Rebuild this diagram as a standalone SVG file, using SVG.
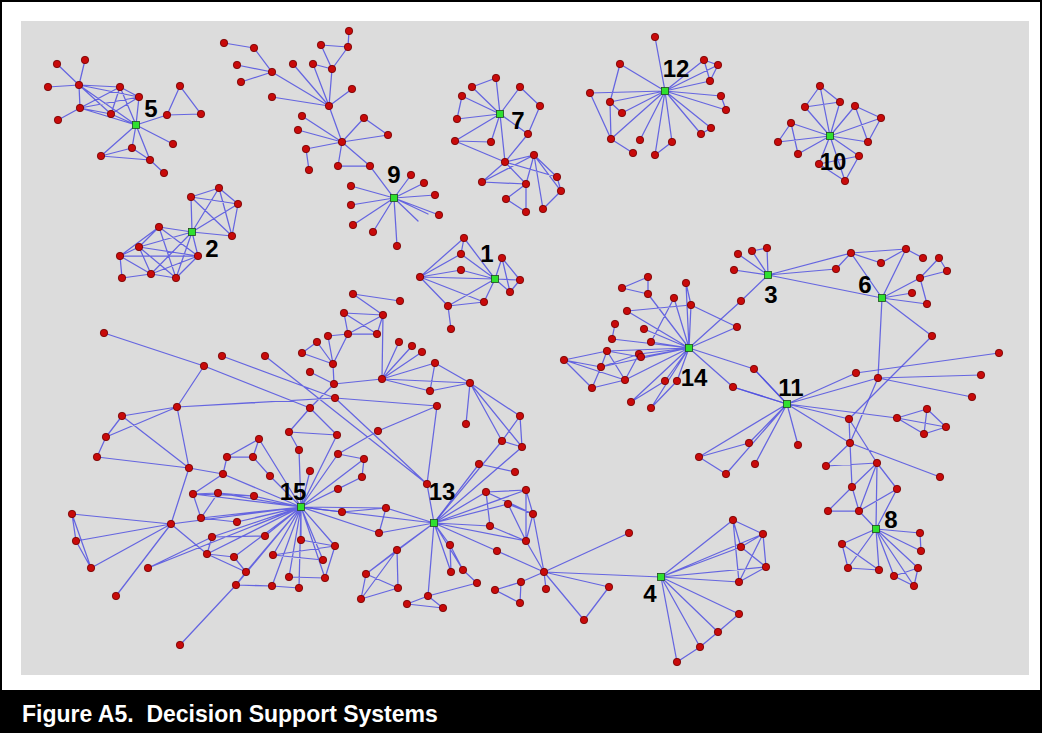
<svg xmlns="http://www.w3.org/2000/svg" width="1042" height="733" viewBox="0 0 1042 733">
<style>
  #edges path { fill: none; stroke: #5050e0; stroke-width: 1.25; stroke-opacity: 0.85; stroke-linecap: round; }
  #nodes circle { fill: #c80a0a; stroke: #6e0000; stroke-width: 0.8; r: 3.7px; }
  .hub rect { fill: #2fe02f; stroke: #1e4a1e; stroke-width: 0.8; }
  .hub text { font-family: "Liberation Sans", Arial, sans-serif; font-weight: bold; font-size: 24px; fill: #000; text-anchor: middle; }
  .caption { font-family: "Liberation Sans", Arial, sans-serif; font-weight: bold; font-size: 23px; fill: #fff; }
</style>

<!-- frame, panel and caption bar -->
<rect x="1" y="1" width="1040" height="731" fill="#fff" stroke="#000" stroke-width="2"/>
<rect x="21" y="21" width="1008" height="654" fill="#dcdcdc"/>
<rect x="0" y="690" width="1042" height="43" fill="#000"/>
<text class="caption" x="22" y="722" xml:space="preserve">Figure A5.  Decision Support Systems</text>

<g id="edges">
  <!-- cluster 5 -->
  <path d="M57,64L79,85M85,60L79,85M48,87L79,85M79,85L120,87M79,85L139,97M79,85L111,114M79,85L136,125M79,85L80,108M80,108L58,120M80,108L120,87M80,108L139,97M80,108L111,114M80,108L136,125M120,87L139,97M120,87L136,125M120,87L111,114M139,97L136,125M111,114L136,125M111,114L139,97M136,125L167,115M167,115L180,86M180,86L201,114M167,115L201,114M136,125L173,144M136,125L132,148M136,125L101,156M136,125L150,160M132,148L101,156M132,148L150,160M101,156L150,160M150,160L164,173"/>
  <!-- cluster 2 -->
  <path d="M192,232L159,227M192,232L191,197M192,232L219,188M192,232L238,204M192,232L232,236M192,232L139,247M192,232L151,274M192,232L176,278M192,232L198,256M191,197L219,188M219,188L238,204M238,204L232,236M191,197L238,204M191,197L232,236M219,188L232,236M159,227L139,247M159,227L120,256M159,227L176,278M139,247L120,256M139,247L198,256M139,247L151,274M139,247L176,278M120,256L122,278M120,256L151,274M122,278L151,274M151,274L176,278M151,274L198,256M176,278L198,256M198,256L159,227M120,256L198,256"/>
  <!-- cluster 9 -->
  <path d="M224,43L254,48M254,48L272,72M237,65L272,72M241,82L272,72M272,72L329,106M272,97L329,106M293,64L329,106M313,64L329,106M332,69L329,106M352,89L329,106M349,31L348,47M321,45L348,47M321,45L332,69M348,47L332,69M313,64L332,69M329,106L342,142M302,116L342,142M298,130L342,142M306,149L342,142M306,149L309,170M364,118L342,142M364,118L388,135M388,135L342,142M342,142L338,166M338,166L370,166M342,142L370,166M370,166L394,198M394,198L411,175M394,198L424,183M394,198L435,195M394,198L439,215M394,198L351,186M394,198L351,205M394,198L353,225M394,198L373,232M394,198L397,246M394,198L418,221M394,198L428,214"/>
  <!-- cluster 7 -->
  <path d="M500,114L496,78M500,114L472,87M500,114L520,87M500,114L462,96M500,114L457,119M500,114L455,141M500,114L491,142M500,114L505,162M500,114L528,134M472,87L496,78M462,96L457,119M455,141L491,142M455,141L505,162M520,87L540,106M505,162L534,155M505,162L482,182M505,162L526,184M505,162L557,177M482,182L526,184M482,182L534,155M534,155L526,184M534,155L557,177M534,155L561,191M534,155L543,209M526,184L506,199M526,184L526,212M506,199L526,212M557,177L561,191M561,191L543,209M528,134L505,162M528,134L540,106"/>
  <!-- cluster 12 -->
  <path d="M665,91L655,37M665,91L620,64M665,91L704,60M665,91L718,65M665,91L710,81M665,91L590,93M665,91L610,102M665,91L721,96M665,91L622,113M665,91L726,110M665,91L611,139M665,91L640,140M665,91L672,142M665,91L711,128M665,91L701,134M665,91L655,155M620,64L610,102M610,102L611,139M590,93L611,139M610,102L622,113M611,139L633,153M655,155L672,142M704,60L718,65M718,65L710,81M704,60L710,81M721,96L726,110M711,128L701,134"/>
  <!-- cluster 10 -->
  <path d="M830,136L820,86M830,136L805,107M830,136L840,102M830,136L855,106M830,136L881,118M830,136L791,123M830,136L778,142M830,136L798,154M830,136L868,142M830,136L859,156M830,136L819,164M830,136L845,181M820,86L805,107M820,86L840,102M805,107L840,102M855,106L881,118M881,118L868,142M855,106L868,142M791,123L778,142M791,123L798,154M859,156L845,181M819,164L845,181M819,164L859,156"/>
  <!-- cluster 1 -->
  <path d="M420,277L464,238M420,277L461,254M420,277L461,270M420,277L495,279M420,277L484,302M420,277L448,306M495,279L464,238M495,279L461,254M495,279L461,270M495,279L502,258M495,279L520,280M495,279L510,292M495,279L484,302M495,279L448,306M502,258L520,280M502,258L510,292M448,306L484,302M448,306L451,329M464,238L461,254M520,280L510,292"/>
  <!-- clusters 3, 6, 11, 8 -->
  <path d="M768,275L738,254M768,275L752,251M768,275L767,248M768,275L734,270M752,251L767,248M768,275L741,301M741,301L689,348M768,275L851,253M768,275L836,269M768,275L882,298M836,269L851,253M851,253L906,249M851,253L881,263M851,253L882,298M906,249L881,263M906,249L882,298M906,249L923,258M882,298L920,278M882,298L912,293M882,298L927,304M920,278L939,258M920,278L947,271M939,258L947,271M920,278L927,304M882,298L932,336M882,298L878,378M932,336L849,419"/>
  <path d="M787,404L856,373M787,404L878,378M787,404L849,419M787,404L897,418M787,404L798,445M787,404L850,443M787,404L749,443M787,404L699,457M787,404L726,474M787,404L755,464M787,404L733,387M787,404L754,369M856,373L999,353M878,378L981,375M878,378L972,397M878,378L850,443M897,418L927,409M897,418L946,427M897,418L924,434M927,409L946,427M927,409L924,434M924,434L946,427M849,419L850,443M699,457L749,443M699,457L726,474"/>
  <path d="M826,466L850,443M826,466L877,463M877,463L849,419M852,487L850,443M850,443L940,477M852,487L877,463M852,487L828,511M852,487L859,511M828,511L859,511M877,463L859,511M877,463L876,529M877,463L897,489M897,489L859,511M859,511L876,529M897,489L876,529M876,529L920,533M876,529L921,551M876,529L918,568M876,529L914,586M876,529L894,576M876,529L879,570M876,529L842,544M876,529L848,568M920,533L921,551M918,568L914,586M894,576L918,568M894,576L914,586M842,544L848,568M842,544L879,570M848,568L879,570"/>
  <!-- cluster 14 -->
  <path d="M648,277L622,288M648,277L648,294M622,288L648,294M689,348L686,283M689,348L674,298M689,348L691,305M627,311L691,305M689,348L627,311M689,348L644,329M689,348L651,342M615,324L612,339M612,339L689,348M689,348L737,327M691,305L737,327M686,283L691,305M674,298L651,342M689,348L648,294M689,348L607,351M689,348L639,354M689,348L641,357M689,348L601,367M689,348L625,380M689,348L665,381M689,348L677,381M689,348L631,402M689,348L651,408M689,348L733,387M689,348L754,369M564,360L607,351M564,360L601,367M564,360L625,380M564,360L592,388M607,351L601,367M607,351L625,380M601,367L592,388M601,367L639,354M592,388L625,380M625,380L639,354M607,351L641,357M665,381L631,402M677,381L651,408M754,369L787,404M733,387L787,404"/>
  <!-- cluster 4 -->
  <path d="M661,577L544,572M661,577L733,520M661,577L741,547M661,577L763,534M661,577L766,567M661,577L739,582M661,577L739,614M661,577L718,632M661,577L700,647M661,577L677,662M733,520L763,534M733,520L741,547M733,520L739,582M763,534L766,567M763,534L741,547M763,534L739,582M741,547L766,567M766,567L739,582M739,614L718,632M718,632L700,647M700,647L677,662M544,572L629,533M544,572L609,587M544,572L584,620M609,587L584,620M544,572L546,589M544,572L497,551M544,572L521,582M544,572L526,541M544,572L533,514"/>
  <!-- cluster 13 -->
  <path d="M434,523L427,484M434,523L479,464M434,523L486,492M434,523L508,504M434,523L526,490M434,523L490,526M434,523L526,541M434,523L450,545M434,523L397,550M434,523L497,551M434,523L451,572M434,523L463,570M434,523L428,596M434,523L366,574M434,523L301,507M434,523L386,508M434,523L379,533M479,464L515,472M486,492L526,490M486,492L533,514M508,504L533,514M490,526L526,541M526,490L533,514M533,514L526,541M526,490L526,541M486,492L490,526M508,504L526,541M397,550L366,574M397,550L398,588M397,550L361,599M366,574L398,588M361,599L398,588M366,574L361,599M428,596L407,604M428,596L443,608M407,604L443,608M428,596L477,583M450,545L463,570M450,545L451,572M463,570L477,583M521,582L495,590M521,582L520,603M495,590L520,603"/>
  <!-- upper part of the main component -->
  <path d="M353,294L400,301M353,294L383,315M344,313L383,315M344,313L348,334M344,313L377,334M383,315L348,334M383,315L377,334M348,334L377,334M383,315L382,379M328,336L348,334M328,336L333,364M348,334L333,364M317,342L333,364M302,353L317,342M302,353L333,364M310,372L334,384M333,364L334,384M334,384L382,379M382,379L399,342M382,379L412,346M382,379L422,352M382,379L435,363M382,379L430,391M382,379L470,383M435,363L430,391M435,363L470,383M430,391L470,383M470,383L466,424M470,383L520,416M470,383L502,441M470,383L522,447M520,416L502,441M502,441L522,447M520,416L522,447M502,441L434,523M522,447L434,523M334,384L310,408M335,398L437,406M177,407L335,398M335,398L427,484M437,406L427,484M378,431L437,406M378,431L338,454M310,408L289,432M289,432L337,435M289,432L299,450M310,408L337,435M265,356L427,484M222,356L335,398M104,333L204,366M204,366L310,408M177,407L204,366M177,407L122,416M177,407L106,437M177,407L189,468M122,416L106,437M106,437L97,457M122,416L189,468M97,457L189,468"/>
  <!-- cluster 15 -->
  <path d="M301,507L310,471M301,507L338,454M301,507L364,459M301,507L362,477M301,507L338,489M301,507L342,512M301,507L386,508M301,507L379,533M301,507L301,540M301,507L335,546M301,507L323,560M301,507L325,578M301,507L289,577M301,507L299,588M301,507L272,586M301,507L273,555M301,507L246,572M301,507L234,557M301,507L212,537M301,507L265,536M301,507L237,522M301,507L201,518M301,507L218,493M301,507L193,494M301,507L254,496M301,507L270,476M301,507L223,474M301,507L171,524M301,507L207,554M301,507L236,585M301,507L299,450M301,507L259,439M301,507L148,568M301,507L337,435M259,439L227,457M259,439L253,457M227,457L253,457M227,457L223,474M253,457L270,476M223,474L193,494M193,494L218,493M193,494L201,518M218,493L201,518M201,518L237,522M193,494L254,496M218,493L254,496M212,537L265,536M207,554L234,557M207,554L212,537M234,557L246,572M246,572L236,585M236,585L272,586M272,586L299,588M289,577L325,578M273,555L323,560M273,555L335,546M301,540L335,546M325,578L335,546M362,477L338,489M364,459L362,477M338,454L364,459M342,512L386,508M386,508L379,533M189,468L171,524M72,514L171,524M72,514L76,541M76,541L91,568M72,514L91,568M76,541L171,524M91,568L171,524M171,524L116,596M171,524L207,554M148,568L212,537M236,585L180,645M207,554L246,572M189,468L223,474"/>
</g>

<g id="nodes">
  <!-- hubs -->
  <g id="hub5" class="hub"><rect x="132.5" y="121.5" width="7" height="7"/><text x="151" y="117">5</text></g>
  <g id="hub2" class="hub"><rect x="188.5" y="228.5" width="7" height="7"/><text x="212" y="257">2</text></g>
  <g id="hub9" class="hub"><rect x="390.5" y="194.5" width="7" height="7"/><text x="394" y="183">9</text></g>
  <g id="hub7" class="hub"><rect x="496.5" y="110.5" width="7" height="7"/><text x="518" y="129">7</text></g>
  <g id="hub12" class="hub"><rect x="661.5" y="87.5" width="7" height="7"/><text x="676" y="77">12</text></g>
  <g id="hub10" class="hub"><rect x="826.5" y="132.5" width="7" height="7"/><text x="833" y="170">10</text></g>
  <g id="hub1" class="hub"><rect x="491.5" y="275.5" width="7" height="7"/><text x="487" y="262">1</text></g>
  <g id="hub3" class="hub"><rect x="764.5" y="271.5" width="7" height="7"/><text x="771" y="303">3</text></g>
  <g id="hub6" class="hub"><rect x="878.5" y="294.5" width="7" height="7"/><text x="865" y="293">6</text></g>
  <g id="hub14" class="hub"><rect x="685.5" y="344.5" width="7" height="7"/><text x="694" y="386">14</text></g>
  <g id="hub11" class="hub"><rect x="783.5" y="400.5" width="7" height="7"/><text x="791" y="396">11</text></g>
  <g id="hub15" class="hub"><rect x="297.5" y="503.5" width="7" height="7"/><text x="293" y="500">15</text></g>
  <g id="hub13" class="hub"><rect x="430.5" y="519.5" width="7" height="7"/><text x="442" y="500">13</text></g>
  <g id="hub4" class="hub"><rect x="657.5" y="573.5" width="7" height="7"/><text x="650" y="602">4</text></g>
  <g id="hub8" class="hub"><rect x="872.5" y="525.5" width="7" height="7"/><text x="891" y="528">8</text></g>

  <!-- members of cluster 5 -->
  <g id="a1"><circle cx="57" cy="64" r="3.7"/></g>
  <g id="a2"><circle cx="85" cy="60" r="3.7"/></g>
  <g id="a3"><circle cx="48" cy="87" r="3.7"/></g>
  <g id="a4"><circle cx="79" cy="85" r="3.7"/></g>
  <g id="a5"><circle cx="120" cy="87" r="3.7"/></g>
  <g id="a6"><circle cx="139" cy="97" r="3.7"/></g>
  <g id="a7"><circle cx="80" cy="108" r="3.7"/></g>
  <g id="a8"><circle cx="111" cy="114" r="3.7"/></g>
  <g id="a9"><circle cx="58" cy="120" r="3.7"/></g>
  <g id="a10"><circle cx="180" cy="86" r="3.7"/></g>
  <g id="a11"><circle cx="167" cy="115" r="3.7"/></g>
  <g id="a12"><circle cx="201" cy="114" r="3.7"/></g>
  <g id="a13"><circle cx="173" cy="144" r="3.7"/></g>
  <g id="a14"><circle cx="132" cy="148" r="3.7"/></g>
  <g id="a15"><circle cx="101" cy="156" r="3.7"/></g>
  <g id="a16"><circle cx="150" cy="160" r="3.7"/></g>
  <g id="a17"><circle cx="164" cy="173" r="3.7"/></g>

  <!-- members of cluster 2 -->
  <g id="b1"><circle cx="191" cy="197" r="3.7"/></g>
  <g id="b2"><circle cx="219" cy="188" r="3.7"/></g>
  <g id="b3"><circle cx="238" cy="204" r="3.7"/></g>
  <g id="b4"><circle cx="232" cy="236" r="3.7"/></g>
  <g id="b5"><circle cx="159" cy="227" r="3.7"/></g>
  <g id="b6"><circle cx="139" cy="247" r="3.7"/></g>
  <g id="b7"><circle cx="120" cy="256" r="3.7"/></g>
  <g id="b8"><circle cx="198" cy="256" r="3.7"/></g>
  <g id="b9"><circle cx="122" cy="278" r="3.7"/></g>
  <g id="b10"><circle cx="151" cy="274" r="3.7"/></g>
  <g id="b11"><circle cx="176" cy="278" r="3.7"/></g>

  <!-- members of cluster 9 -->
  <g id="c1"><circle cx="224" cy="43" r="3.7"/></g>
  <g id="c2"><circle cx="254" cy="48" r="3.7"/></g>
  <g id="c3"><circle cx="237" cy="65" r="3.7"/></g>
  <g id="c4"><circle cx="272" cy="72" r="3.7"/></g>
  <g id="c5"><circle cx="241" cy="82" r="3.7"/></g>
  <g id="c6"><circle cx="272" cy="97" r="3.7"/></g>
  <g id="c7"><circle cx="349" cy="31" r="3.7"/></g>
  <g id="c8"><circle cx="321" cy="45" r="3.7"/></g>
  <g id="c9"><circle cx="348" cy="47" r="3.7"/></g>
  <g id="c10"><circle cx="293" cy="64" r="3.7"/></g>
  <g id="c11"><circle cx="313" cy="64" r="3.7"/></g>
  <g id="c12"><circle cx="332" cy="69" r="3.7"/></g>
  <g id="c13"><circle cx="352" cy="89" r="3.7"/></g>
  <g id="c14"><circle cx="329" cy="106" r="3.7"/></g>
  <g id="c15"><circle cx="302" cy="116" r="3.7"/></g>
  <g id="c16"><circle cx="364" cy="118" r="3.7"/></g>
  <g id="c17"><circle cx="298" cy="130" r="3.7"/></g>
  <g id="c18"><circle cx="388" cy="135" r="3.7"/></g>
  <g id="c19"><circle cx="342" cy="142" r="3.7"/></g>
  <g id="c20"><circle cx="306" cy="149" r="3.7"/></g>
  <g id="c21"><circle cx="309" cy="170" r="3.7"/></g>
  <g id="c22"><circle cx="338" cy="166" r="3.7"/></g>
  <g id="c23"><circle cx="370" cy="166" r="3.7"/></g>
  <g id="c24"><circle cx="411" cy="175" r="3.7"/></g>
  <g id="c25"><circle cx="424" cy="183" r="3.7"/></g>
  <g id="c26"><circle cx="351" cy="186" r="3.7"/></g>
  <g id="c27"><circle cx="435" cy="195" r="3.7"/></g>
  <g id="c28"><circle cx="351" cy="205" r="3.7"/></g>
  <g id="c29"><circle cx="439" cy="215" r="3.7"/></g>
  <g id="c30"><circle cx="353" cy="225" r="3.7"/></g>
  <g id="c31"><circle cx="373" cy="232" r="3.7"/></g>
  <g id="c32"><circle cx="397" cy="246" r="3.7"/></g>

  <!-- members of cluster 7 -->
  <g id="d1"><circle cx="496" cy="78" r="3.7"/></g>
  <g id="d2"><circle cx="472" cy="87" r="3.7"/></g>
  <g id="d3"><circle cx="520" cy="87" r="3.7"/></g>
  <g id="d4"><circle cx="462" cy="96" r="3.7"/></g>
  <g id="d5"><circle cx="457" cy="119" r="3.7"/></g>
  <g id="d6"><circle cx="455" cy="141" r="3.7"/></g>
  <g id="d7"><circle cx="491" cy="142" r="3.7"/></g>
  <g id="d8"><circle cx="540" cy="106" r="3.7"/></g>
  <g id="d9"><circle cx="528" cy="134" r="3.7"/></g>
  <g id="d10"><circle cx="505" cy="162" r="3.7"/></g>
  <g id="d11"><circle cx="534" cy="155" r="3.7"/></g>
  <g id="d12"><circle cx="482" cy="182" r="3.7"/></g>
  <g id="d13"><circle cx="526" cy="184" r="3.7"/></g>
  <g id="d14"><circle cx="557" cy="177" r="3.7"/></g>
  <g id="d15"><circle cx="561" cy="191" r="3.7"/></g>
  <g id="d16"><circle cx="543" cy="209" r="3.7"/></g>
  <g id="d17"><circle cx="506" cy="199" r="3.7"/></g>
  <g id="d18"><circle cx="526" cy="212" r="3.7"/></g>

  <!-- members of cluster 12 -->
  <g id="e1"><circle cx="655" cy="37" r="3.7"/></g>
  <g id="e2"><circle cx="620" cy="64" r="3.7"/></g>
  <g id="e3"><circle cx="704" cy="60" r="3.7"/></g>
  <g id="e4"><circle cx="718" cy="65" r="3.7"/></g>
  <g id="e5"><circle cx="710" cy="81" r="3.7"/></g>
  <g id="e6"><circle cx="590" cy="93" r="3.7"/></g>
  <g id="e7"><circle cx="610" cy="102" r="3.7"/></g>
  <g id="e8"><circle cx="721" cy="96" r="3.7"/></g>
  <g id="e9"><circle cx="622" cy="113" r="3.7"/></g>
  <g id="e10"><circle cx="726" cy="110" r="3.7"/></g>
  <g id="e11"><circle cx="611" cy="139" r="3.7"/></g>
  <g id="e12"><circle cx="640" cy="140" r="3.7"/></g>
  <g id="e13"><circle cx="672" cy="142" r="3.7"/></g>
  <g id="e14"><circle cx="711" cy="128" r="3.7"/></g>
  <g id="e15"><circle cx="701" cy="134" r="3.7"/></g>
  <g id="e16"><circle cx="633" cy="153" r="3.7"/></g>
  <g id="e17"><circle cx="655" cy="155" r="3.7"/></g>

  <!-- members of cluster 10 -->
  <g id="f1"><circle cx="820" cy="86" r="3.7"/></g>
  <g id="f2"><circle cx="805" cy="107" r="3.7"/></g>
  <g id="f3"><circle cx="840" cy="102" r="3.7"/></g>
  <g id="f4"><circle cx="855" cy="106" r="3.7"/></g>
  <g id="f5"><circle cx="881" cy="118" r="3.7"/></g>
  <g id="f6"><circle cx="791" cy="123" r="3.7"/></g>
  <g id="f7"><circle cx="778" cy="142" r="3.7"/></g>
  <g id="f8"><circle cx="798" cy="154" r="3.7"/></g>
  <g id="f9"><circle cx="868" cy="142" r="3.7"/></g>
  <g id="f10"><circle cx="859" cy="156" r="3.7"/></g>
  <g id="f11"><circle cx="819" cy="164" r="3.7"/></g>
  <g id="f12"><circle cx="845" cy="181" r="3.7"/></g>

  <!-- members of cluster 1 -->
  <g id="g1"><circle cx="464" cy="238" r="3.7"/></g>
  <g id="g2"><circle cx="461" cy="254" r="3.7"/></g>
  <g id="g3"><circle cx="461" cy="270" r="3.7"/></g>
  <g id="g4"><circle cx="420" cy="277" r="3.7"/></g>
  <g id="g5"><circle cx="502" cy="258" r="3.7"/></g>
  <g id="g6"><circle cx="520" cy="280" r="3.7"/></g>
  <g id="g7"><circle cx="510" cy="292" r="3.7"/></g>
  <g id="g8"><circle cx="484" cy="302" r="3.7"/></g>
  <g id="g9"><circle cx="448" cy="306" r="3.7"/></g>
  <g id="g10"><circle cx="451" cy="329" r="3.7"/></g>

  <!-- members of clusters 3 and 6 -->
  <g id="h1"><circle cx="738" cy="254" r="3.7"/></g>
  <g id="h2"><circle cx="752" cy="251" r="3.7"/></g>
  <g id="h3"><circle cx="767" cy="248" r="3.7"/></g>
  <g id="h4"><circle cx="734" cy="270" r="3.7"/></g>
  <g id="h5"><circle cx="741" cy="301" r="3.7"/></g>
  <g id="h6"><circle cx="851" cy="253" r="3.7"/></g>
  <g id="h7"><circle cx="906" cy="249" r="3.7"/></g>
  <g id="h8"><circle cx="881" cy="263" r="3.7"/></g>
  <g id="h9"><circle cx="923" cy="258" r="3.7"/></g>
  <g id="h10"><circle cx="939" cy="258" r="3.7"/></g>
  <g id="h11"><circle cx="947" cy="271" r="3.7"/></g>
  <g id="h12"><circle cx="836" cy="269" r="3.7"/></g>
  <g id="h13"><circle cx="920" cy="278" r="3.7"/></g>
  <g id="h14"><circle cx="912" cy="293" r="3.7"/></g>
  <g id="h15"><circle cx="927" cy="304" r="3.7"/></g>
  <g id="h16"><circle cx="932" cy="336" r="3.7"/></g>

  <!-- members of cluster 11 -->
  <g id="i1"><circle cx="856" cy="373" r="3.7"/></g>
  <g id="i2"><circle cx="878" cy="378" r="3.7"/></g>
  <g id="i3"><circle cx="999" cy="353" r="3.7"/></g>
  <g id="i4"><circle cx="981" cy="375" r="3.7"/></g>
  <g id="i5"><circle cx="972" cy="397" r="3.7"/></g>
  <g id="i6"><circle cx="849" cy="419" r="3.7"/></g>
  <g id="i7"><circle cx="897" cy="418" r="3.7"/></g>
  <g id="i8"><circle cx="927" cy="409" r="3.7"/></g>
  <g id="i9"><circle cx="946" cy="427" r="3.7"/></g>
  <g id="i10"><circle cx="924" cy="434" r="3.7"/></g>
  <g id="i11"><circle cx="798" cy="445" r="3.7"/></g>
  <g id="i12"><circle cx="850" cy="443" r="3.7"/></g>
  <g id="i13"><circle cx="749" cy="443" r="3.7"/></g>
  <g id="i14"><circle cx="699" cy="457" r="3.7"/></g>
  <g id="i15"><circle cx="726" cy="474" r="3.7"/></g>
  <g id="i16"><circle cx="755" cy="464" r="3.7"/></g>

  <!-- members of cluster 8 -->
  <g id="j1"><circle cx="826" cy="466" r="3.7"/></g>
  <g id="j2"><circle cx="877" cy="463" r="3.7"/></g>
  <g id="j3"><circle cx="940" cy="477" r="3.7"/></g>
  <g id="j4"><circle cx="852" cy="487" r="3.7"/></g>
  <g id="j5"><circle cx="897" cy="489" r="3.7"/></g>
  <g id="j6"><circle cx="828" cy="511" r="3.7"/></g>
  <g id="j7"><circle cx="859" cy="511" r="3.7"/></g>
  <g id="j8"><circle cx="920" cy="533" r="3.7"/></g>
  <g id="j9"><circle cx="921" cy="551" r="3.7"/></g>
  <g id="j10"><circle cx="918" cy="568" r="3.7"/></g>
  <g id="j11"><circle cx="914" cy="586" r="3.7"/></g>
  <g id="j12"><circle cx="894" cy="576" r="3.7"/></g>
  <g id="j13"><circle cx="879" cy="570" r="3.7"/></g>
  <g id="j14"><circle cx="848" cy="568" r="3.7"/></g>
  <g id="j15"><circle cx="842" cy="544" r="3.7"/></g>

  <!-- members of cluster 14 -->
  <g id="k1"><circle cx="648" cy="277" r="3.7"/></g>
  <g id="k2"><circle cx="622" cy="288" r="3.7"/></g>
  <g id="k3"><circle cx="648" cy="294" r="3.7"/></g>
  <g id="k4"><circle cx="686" cy="283" r="3.7"/></g>
  <g id="k5"><circle cx="674" cy="298" r="3.7"/></g>
  <g id="k6"><circle cx="691" cy="305" r="3.7"/></g>
  <g id="k7"><circle cx="627" cy="311" r="3.7"/></g>
  <g id="k8"><circle cx="737" cy="327" r="3.7"/></g>
  <g id="k9"><circle cx="615" cy="324" r="3.7"/></g>
  <g id="k10"><circle cx="644" cy="329" r="3.7"/></g>
  <g id="k11"><circle cx="612" cy="339" r="3.7"/></g>
  <g id="k12"><circle cx="651" cy="342" r="3.7"/></g>
  <g id="k13"><circle cx="607" cy="351" r="3.7"/></g>
  <g id="k14"><circle cx="639" cy="354" r="3.7"/></g>
  <g id="k15"><circle cx="564" cy="360" r="3.7"/></g>
  <g id="k16"><circle cx="641" cy="357" r="3.7"/></g>
  <g id="k17"><circle cx="601" cy="367" r="3.7"/></g>
  <g id="k18"><circle cx="625" cy="380" r="3.7"/></g>
  <g id="k19"><circle cx="665" cy="381" r="3.7"/></g>
  <g id="k20"><circle cx="677" cy="381" r="3.7"/></g>
  <g id="k21"><circle cx="592" cy="388" r="3.7"/></g>
  <g id="k22"><circle cx="733" cy="387" r="3.7"/></g>
  <g id="k23"><circle cx="631" cy="402" r="3.7"/></g>
  <g id="k24"><circle cx="651" cy="408" r="3.7"/></g>
  <g id="k25"><circle cx="754" cy="369" r="3.7"/></g>

  <!-- members of cluster 4 -->
  <g id="m1"><circle cx="733" cy="520" r="3.7"/></g>
  <g id="m2"><circle cx="763" cy="534" r="3.7"/></g>
  <g id="m3"><circle cx="741" cy="547" r="3.7"/></g>
  <g id="m4"><circle cx="766" cy="567" r="3.7"/></g>
  <g id="m5"><circle cx="739" cy="582" r="3.7"/></g>
  <g id="m6"><circle cx="739" cy="614" r="3.7"/></g>
  <g id="m7"><circle cx="718" cy="632" r="3.7"/></g>
  <g id="m8"><circle cx="700" cy="647" r="3.7"/></g>
  <g id="m9"><circle cx="677" cy="662" r="3.7"/></g>
  <g id="m10"><circle cx="629" cy="533" r="3.7"/></g>
  <g id="m11"><circle cx="544" cy="572" r="3.7"/></g>
  <g id="m12"><circle cx="546" cy="589" r="3.7"/></g>
  <g id="m13"><circle cx="609" cy="587" r="3.7"/></g>
  <g id="m14"><circle cx="584" cy="620" r="3.7"/></g>

  <!-- members of cluster 13 -->
  <g id="p1"><circle cx="427" cy="484" r="3.7"/></g>
  <g id="p2"><circle cx="479" cy="464" r="3.7"/></g>
  <g id="p3"><circle cx="515" cy="472" r="3.7"/></g>
  <g id="p4"><circle cx="486" cy="492" r="3.7"/></g>
  <g id="p5"><circle cx="526" cy="490" r="3.7"/></g>
  <g id="p6"><circle cx="508" cy="504" r="3.7"/></g>
  <g id="p7"><circle cx="533" cy="514" r="3.7"/></g>
  <g id="p8"><circle cx="490" cy="526" r="3.7"/></g>
  <g id="p9"><circle cx="526" cy="541" r="3.7"/></g>
  <g id="p10"><circle cx="450" cy="545" r="3.7"/></g>
  <g id="p11"><circle cx="397" cy="550" r="3.7"/></g>
  <g id="p12"><circle cx="497" cy="551" r="3.7"/></g>
  <g id="p13"><circle cx="366" cy="574" r="3.7"/></g>
  <g id="p14"><circle cx="451" cy="572" r="3.7"/></g>
  <g id="p15"><circle cx="463" cy="570" r="3.7"/></g>
  <g id="p16"><circle cx="477" cy="583" r="3.7"/></g>
  <g id="p17"><circle cx="398" cy="588" r="3.7"/></g>
  <g id="p18"><circle cx="495" cy="590" r="3.7"/></g>
  <g id="p19"><circle cx="521" cy="582" r="3.7"/></g>
  <g id="p20"><circle cx="361" cy="599" r="3.7"/></g>
  <g id="p21"><circle cx="428" cy="596" r="3.7"/></g>
  <g id="p22"><circle cx="407" cy="604" r="3.7"/></g>
  <g id="p23"><circle cx="520" cy="603" r="3.7"/></g>
  <g id="p24"><circle cx="443" cy="608" r="3.7"/></g>

  <!-- upper part of the main component -->
  <g id="q1"><circle cx="353" cy="294" r="3.7"/></g>
  <g id="q2"><circle cx="400" cy="301" r="3.7"/></g>
  <g id="q3"><circle cx="344" cy="313" r="3.7"/></g>
  <g id="q4"><circle cx="383" cy="315" r="3.7"/></g>
  <g id="q5"><circle cx="328" cy="336" r="3.7"/></g>
  <g id="q6"><circle cx="348" cy="334" r="3.7"/></g>
  <g id="q7"><circle cx="377" cy="334" r="3.7"/></g>
  <g id="q8"><circle cx="317" cy="342" r="3.7"/></g>
  <g id="q9"><circle cx="302" cy="353" r="3.7"/></g>
  <g id="q10"><circle cx="333" cy="364" r="3.7"/></g>
  <g id="q11"><circle cx="399" cy="342" r="3.7"/></g>
  <g id="q12"><circle cx="412" cy="346" r="3.7"/></g>
  <g id="q13"><circle cx="422" cy="352" r="3.7"/></g>
  <g id="q14"><circle cx="435" cy="363" r="3.7"/></g>
  <g id="q15"><circle cx="310" cy="372" r="3.7"/></g>
  <g id="q16"><circle cx="382" cy="379" r="3.7"/></g>
  <g id="q17"><circle cx="334" cy="384" r="3.7"/></g>
  <g id="q18"><circle cx="430" cy="391" r="3.7"/></g>
  <g id="q19"><circle cx="470" cy="383" r="3.7"/></g>
  <g id="q20"><circle cx="335" cy="398" r="3.7"/></g>
  <g id="q21"><circle cx="310" cy="408" r="3.7"/></g>
  <g id="q22"><circle cx="437" cy="406" r="3.7"/></g>
  <g id="q23"><circle cx="466" cy="424" r="3.7"/></g>
  <g id="q24"><circle cx="520" cy="416" r="3.7"/></g>
  <g id="q25"><circle cx="289" cy="432" r="3.7"/></g>
  <g id="q26"><circle cx="337" cy="435" r="3.7"/></g>
  <g id="q27"><circle cx="378" cy="431" r="3.7"/></g>
  <g id="q28"><circle cx="502" cy="441" r="3.7"/></g>
  <g id="q29"><circle cx="522" cy="447" r="3.7"/></g>
  <g id="q30"><circle cx="299" cy="450" r="3.7"/></g>
  <g id="q31"><circle cx="338" cy="454" r="3.7"/></g>
  <g id="q32"><circle cx="364" cy="459" r="3.7"/></g>
  <g id="q33"><circle cx="104" cy="333" r="3.7"/></g>
  <g id="q34"><circle cx="204" cy="366" r="3.7"/></g>
  <g id="q35"><circle cx="222" cy="356" r="3.7"/></g>
  <g id="q36"><circle cx="265" cy="356" r="3.7"/></g>
  <g id="q37"><circle cx="177" cy="407" r="3.7"/></g>
  <g id="q38"><circle cx="122" cy="416" r="3.7"/></g>
  <g id="q39"><circle cx="106" cy="437" r="3.7"/></g>
  <g id="q40"><circle cx="97" cy="457" r="3.7"/></g>

  <!-- members of cluster 15 -->
  <g id="r1"><circle cx="259" cy="439" r="3.7"/></g>
  <g id="r2"><circle cx="227" cy="457" r="3.7"/></g>
  <g id="r3"><circle cx="253" cy="457" r="3.7"/></g>
  <g id="r4"><circle cx="189" cy="468" r="3.7"/></g>
  <g id="r5"><circle cx="223" cy="474" r="3.7"/></g>
  <g id="r6"><circle cx="270" cy="476" r="3.7"/></g>
  <g id="r7"><circle cx="310" cy="471" r="3.7"/></g>
  <g id="r8"><circle cx="362" cy="477" r="3.7"/></g>
  <g id="r9"><circle cx="338" cy="489" r="3.7"/></g>
  <g id="r10"><circle cx="193" cy="494" r="3.7"/></g>
  <g id="r11"><circle cx="218" cy="493" r="3.7"/></g>
  <g id="r12"><circle cx="254" cy="496" r="3.7"/></g>
  <g id="r13"><circle cx="72" cy="514" r="3.7"/></g>
  <g id="r14"><circle cx="171" cy="524" r="3.7"/></g>
  <g id="r15"><circle cx="201" cy="518" r="3.7"/></g>
  <g id="r16"><circle cx="237" cy="522" r="3.7"/></g>
  <g id="r17"><circle cx="342" cy="512" r="3.7"/></g>
  <g id="r18"><circle cx="386" cy="508" r="3.7"/></g>
  <g id="r19"><circle cx="379" cy="533" r="3.7"/></g>
  <g id="r20"><circle cx="76" cy="541" r="3.7"/></g>
  <g id="r21"><circle cx="212" cy="537" r="3.7"/></g>
  <g id="r22"><circle cx="265" cy="536" r="3.7"/></g>
  <g id="r23"><circle cx="301" cy="540" r="3.7"/></g>
  <g id="r24"><circle cx="335" cy="546" r="3.7"/></g>
  <g id="r25"><circle cx="207" cy="554" r="3.7"/></g>
  <g id="r26"><circle cx="234" cy="557" r="3.7"/></g>
  <g id="r27"><circle cx="273" cy="555" r="3.7"/></g>
  <g id="r28"><circle cx="323" cy="560" r="3.7"/></g>
  <g id="r29"><circle cx="91" cy="568" r="3.7"/></g>
  <g id="r30"><circle cx="148" cy="568" r="3.7"/></g>
  <g id="r31"><circle cx="246" cy="572" r="3.7"/></g>
  <g id="r32"><circle cx="289" cy="577" r="3.7"/></g>
  <g id="r33"><circle cx="325" cy="578" r="3.7"/></g>
  <g id="r34"><circle cx="236" cy="585" r="3.7"/></g>
  <g id="r35"><circle cx="272" cy="586" r="3.7"/></g>
  <g id="r36"><circle cx="299" cy="588" r="3.7"/></g>
  <g id="r37"><circle cx="116" cy="596" r="3.7"/></g>
  <g id="r38"><circle cx="180" cy="645" r="3.7"/></g>
</g>
</svg>
